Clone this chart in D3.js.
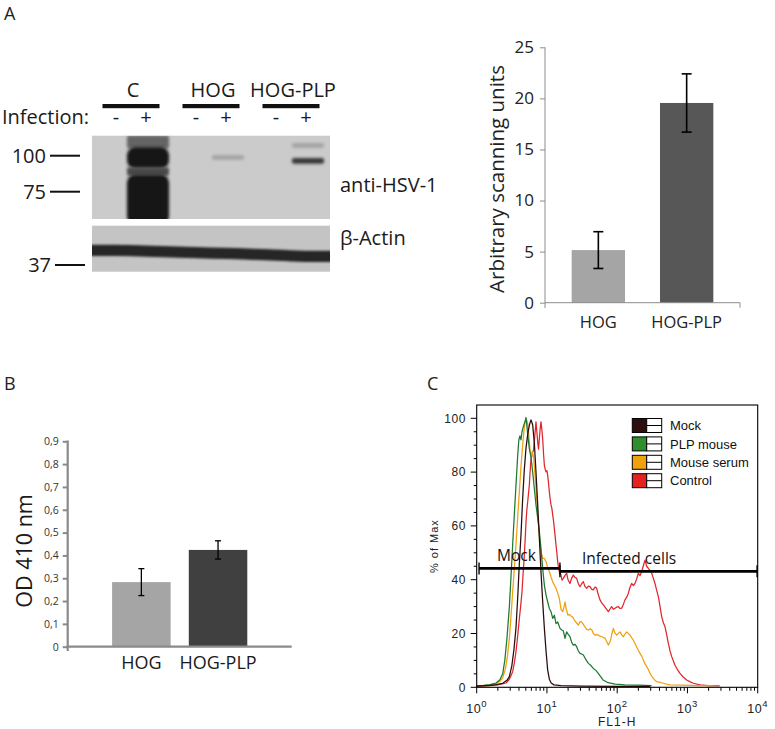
<!DOCTYPE html>
<html><head><meta charset="utf-8">
<script src="https://cdn.jsdelivr.net/npm/d3@7"></script>
<style>
html,body{margin:0;padding:0;background:#fff;}
svg{display:block;}
</style></head><body>
<script>
// ================= DATA =================
// Panel A – western blot
const blotGroups = ["C", "HOG", "HOG-PLP"];
const laneGroup = ["C", "C", "HOG", "HOG", "HOG-PLP", "HOG-PLP"];
const infectionSigns = ["-", "+", "-", "+", "-", "+"];
const markerKDa = [100, 75, 37];
const markerLabels = ["100", "75", "37"];
// HSV-1 bands: lane index, kDa span, signal level (0..1)
const hsvBands = [
  {lane: 1, kdaHi: 114, kdaLo: 105, level: 0.55},
  {lane: 1, kdaHi: 106, kdaLo: 91, level: 0.97},
  {lane: 1, kdaHi: 92, kdaLo: 86, level: 0.7},
  {lane: 1, kdaHi: 87, kdaLo: 58, level: 1.0},
  {lane: 3, kdaHi: 100.5, kdaLo: 97, level: 0.2},
  {lane: 5, kdaHi: 108.8, kdaLo: 105.3, level: 0.2},
  {lane: 5, kdaHi: 98.4, kdaLo: 94.4, level: 0.8}
];
const actinKDa = [44.6, 44.2, 43.4, 43.0, 42.1, 41.5];
const actinSpread = 2.9;
const blotRightLabels = ["anti-HSV-1", "β-Actin"];

// Panel A – quantification
const barCats = ["HOG", "HOG-PLP"];
const scanMean = [5.15, 19.55];
const scanErr = [1.8, 2.85];
const scanTicks = [0, 5, 10, 15, 20, 25];
const scanLabel = "Arbitrary scanning units";

// Panel B – ELISA
const odMean = [0.283, 0.424];
const odErr = [0.059, 0.04];
const odTicks = [0, 0.1, 0.2, 0.3, 0.4, 0.5, 0.6, 0.7, 0.8, 0.9];
const odLabel = "OD 410 nm";

// Panel C – flow cytometry histograms: [log10(FL1-H), % of Max]
const seriesNames = ["Mock", "PLP mouse", "Mouse serum", "Control"];
const mockCurve = [[0,0.4],[0.19,0.7],[0.28,1.0],[0.37,1.5],[0.43,2.6],[0.465,4],[0.5,8],[0.53,14],[0.559,22],[0.583,33],[0.607,46],[0.631,57],[0.654,70],[0.678,81],[0.702,89],[0.726,94],[0.75,97.5],[0.773,99.4],[0.797,97.5],[0.82,91],[0.844,80],[0.868,68],[0.892,55.3],[0.915,43],[0.939,32],[0.963,22],[0.987,13.5],[1.01,6.5],[1.034,3],[1.06,1.6],[1.1,0.9],[1.2,0.6],[1.5,0.4],[2.0,0.3],[2.47,0.3]];
const plpCurve = [[0,0.5],[0.1,0.7],[0.19,1.0],[0.275,1.6],[0.33,2.8],[0.37,5],[0.4,10],[0.43,18],[0.465,30],[0.49,42],[0.512,53],[0.535,64],[0.559,75],[0.583,86],[0.6,92],[0.615,93.5],[0.63,92],[0.645,95],[0.665,97],[0.69,99],[0.702,100.3],[0.715,97],[0.73,93],[0.75,88.5],[0.773,85.5],[0.797,80],[0.82,74],[0.844,67.8],[0.868,63],[0.892,57.8],[0.915,51.6],[0.939,44.2],[0.963,38],[0.987,34.3],[1.01,31.8],[1.034,29.3],[1.058,28.1],[1.082,25.6],[1.105,26.8],[1.129,23.7],[1.153,24.3],[1.186,21.9],[1.21,21.3],[1.233,21],[1.257,18.2],[1.28,20.6],[1.3,19.8],[1.328,18.8],[1.355,16.5],[1.376,15.7],[1.4,16],[1.423,15.1],[1.447,13.5],[1.47,12.6],[1.5,12.3],[1.518,12],[1.55,10.5],[1.59,8.9],[1.63,8],[1.66,7],[1.7,6.2],[1.73,5.2],[1.77,3.8],[1.8,2.7],[1.87,1.7],[1.97,1.2],[2.11,0.9],[2.3,0.8],[2.49,0.6]];
const serumCurve = [[0,0.4],[0.09,0.6],[0.19,0.9],[0.275,1.4],[0.33,2.2],[0.37,3.5],[0.41,7],[0.44,12],[0.465,18.2],[0.49,27],[0.512,35.5],[0.535,44],[0.559,52.9],[0.583,63],[0.607,72.7],[0.63,82],[0.654,90],[0.675,96],[0.69,98.7],[0.71,99.5],[0.726,98],[0.745,92.5],[0.76,88],[0.775,86],[0.79,87.5],[0.81,85.7],[0.827,80],[0.844,73.9],[0.868,65.2],[0.892,56.6],[0.915,50.4],[0.939,47.9],[0.963,47.9],[0.987,46.7],[1.01,44.5],[1.034,43],[1.058,41],[1.082,39.2],[1.105,38],[1.129,36.8],[1.153,35],[1.176,33.1],[1.2,29],[1.224,28.1],[1.245,30],[1.257,31.8],[1.275,29],[1.3,26.8],[1.325,27],[1.35,26.3],[1.37,26],[1.39,25],[1.42,24],[1.447,23.1],[1.47,24.4],[1.49,24.4],[1.515,23.5],[1.54,22.5],[1.565,21.5],[1.59,21.3],[1.615,21.8],[1.64,21.3],[1.66,20],[1.684,19.4],[1.71,19.6],[1.73,19.4],[1.755,19],[1.78,18.8],[1.8,18.6],[1.827,18.2],[1.85,17],[1.874,15.7],[1.89,16.5],[1.906,17.5],[1.925,20],[1.945,21.9],[1.965,20.3],[1.992,19.4],[2.015,20],[2.04,20.6],[2.065,19.5],[2.087,18.8],[2.11,19.8],[2.135,20.6],[2.16,20],[2.182,19.4],[2.205,18.5],[2.23,17.5],[2.255,16.2],[2.277,15],[2.3,13.8],[2.325,12.6],[2.35,11.5],[2.372,10.1],[2.395,8.8],[2.42,7.7],[2.445,6.5],[2.467,5.2],[2.49,4.2],[2.515,3.3],[2.54,2.6],[2.562,2.1],[2.61,1.8],[2.657,1.5],[2.7,1.2],[2.752,0.9],[2.94,0.8],[3.18,0.6],[3.37,0.5]];
const controlCurve = [[0,0.3],[0.19,0.6],[0.3,0.9],[0.417,1.6],[0.465,3],[0.512,5.8],[0.535,9],[0.559,13.2],[0.583,19],[0.607,25.6],[0.625,30],[0.645,35.5],[0.66,42],[0.678,49.1],[0.69,55],[0.702,61.5],[0.714,66],[0.726,69],[0.737,72],[0.749,75.1],[0.76,80],[0.773,85],[0.785,86],[0.797,87.5],[0.808,88],[0.82,91.3],[0.832,95],[0.844,98.7],[0.856,95],[0.868,91.3],[0.88,88.5],[0.892,92.5],[0.903,96],[0.915,98.7],[0.927,96],[0.939,92.5],[0.951,87],[0.963,82.6],[0.975,81],[0.987,80.1],[1.0,80.5],[1.01,78.9],[1.022,76],[1.034,72.7],[1.046,70],[1.058,67.8],[1.07,66.5],[1.082,64],[1.093,62],[1.105,59],[1.117,56],[1.129,52.9],[1.141,50],[1.153,46.7],[1.165,44.5],[1.176,42.9],[1.19,42.2],[1.2,41.7],[1.215,39.8],[1.233,40.5],[1.255,41.5],[1.28,42.4],[1.3,40],[1.328,38.6],[1.35,40.5],[1.376,41.7],[1.4,40.8],[1.423,40.5],[1.447,38.5],[1.47,37.4],[1.495,38.5],[1.518,39.3],[1.54,37.5],[1.565,36.8],[1.59,37.6],[1.613,37.4],[1.635,36.5],[1.66,36.2],[1.685,37.3],[1.708,36.8],[1.73,34.5],[1.755,32.5],[1.78,31.4],[1.803,30.6],[1.84,29.3],[1.874,28.1],[1.9,29.2],[1.921,30],[1.945,29],[1.969,29.4],[1.99,29.8],[2.016,30],[2.04,29.3],[2.064,29.4],[2.09,31],[2.111,32.5],[2.135,33.5],[2.158,34.9],[2.18,37],[2.206,38.6],[2.23,37.8],[2.253,38.6],[2.28,40.5],[2.301,42.4],[2.325,41.5],[2.348,43],[2.37,45],[2.396,47.3],[2.42,45],[2.443,44.2],[2.465,43.5],[2.491,42.4],[2.515,40.5],[2.538,38.6],[2.562,36],[2.586,33.7],[2.61,30],[2.633,26.3],[2.657,24],[2.681,22.5],[2.705,19.5],[2.728,16.3],[2.752,13.5],[2.776,11.4],[2.8,9.8],[2.823,8.2],[2.86,6.5],[2.894,5.2],[2.94,3.8],[2.989,2.7],[3.04,2],[3.084,1.5],[3.18,0.9],[3.3,0.6],[3.46,0.5]];
const gateNames = ["Mock", "Infected cells"];
const gateLo = [1.08, 15.3];
const gateHi = [15.3, 9800];
const gateLevel = [44.2, 43.1];
const flDecades = [1, 10, 100, 1000, 10000];
const flPctTicks = [0, 20, 40, 60, 80, 100];

// ================= DRAW =================
const W = 775, H = 729;
const OS = '"Open Sans", sans-serif';
const AR = '"Liberation Sans", Arial, sans-serif';
const svg = d3.select("body").append("svg").attr("width", W).attr("height", H);
svg.append("rect").attr("width", W).attr("height", H).attr("fill", "#fff");
const defs = svg.append("defs");
defs.append("filter").attr("id", "blurB").attr("x", "-30%").attr("y", "-60%").attr("width", "160%").attr("height", "220%")
  .append("feGaussianBlur").attr("stdDeviation", 1.6);
defs.append("filter").attr("id", "blurA").attr("x", "-5%").attr("y", "-60%").attr("width", "110%").attr("height", "220%")
  .append("feGaussianBlur").attr("stdDeviation", 1.1);

// panel letters
[["A", 4, 19.5], ["B", 4, 390], ["C", 427, 390]].forEach(([t, x, y]) =>
  svg.append("text").attr("x", x).attr("y", y).text(t)
    .attr("font-family", OS).attr("font-size", 18).attr("fill", "#222"));

// ---------- Panel A: blot ----------
const blot = svg.append("g");
const grpX = d3.scalePoint().domain(blotGroups).range([131, 291]);
const laneX = i => grpX(laneGroup[i]) + (infectionSigns[i] === "+" ? 15 : -15);
const kdaY = d3.scaleLinear().domain(markerKDa).range([155.7, 191.7, 265]);
const topPanel = {x: 92, y: 135.7, w: 238, h: 83.3};
const botPanel = {x: 92, y: 225.7, w: 238, h: 46};
defs.append("clipPath").attr("id", "clipTop").append("rect")
  .attr("x", topPanel.x).attr("y", topPanel.y).attr("width", topPanel.w).attr("height", topPanel.h);
defs.append("clipPath").attr("id", "clipBot").append("rect")
  .attr("x", botPanel.x).attr("y", botPanel.y).attr("width", botPanel.w).attr("height", botPanel.h);

blot.append("rect").attr("x", topPanel.x).attr("y", topPanel.y).attr("width", topPanel.w).attr("height", topPanel.h).attr("fill", "#cbcbcb");
blot.append("rect").attr("x", botPanel.x).attr("y", botPanel.y).attr("width", botPanel.w).attr("height", botPanel.h).attr("fill", "#c4c4c4");

const bandCol = d3.interpolateRgb("#c9c9c9", "#141414");
const gTop = blot.append("g").attr("clip-path", "url(#clipTop)");
gTop.selectAll("rect.band").data(hsvBands).join("rect").attr("class", "band")
  .attr("x", d => laneX(d.lane) + 2 - (d.lane === 1 ? 21 : 16))
  .attr("width", d => d.lane === 1 ? 42 : 32)
  .attr("y", d => kdaY(d.kdaHi))
  .attr("height", d => kdaY(d.kdaLo) - kdaY(d.kdaHi))
  .attr("rx", d => d.level > 0.9 ? 8 : 2)
  .attr("fill", d => bandCol(d.level))
  .attr("filter", "url(#blurB)");

// actin band
const actinPts = actinKDa.map((k, i) => [laneX(i), k]);
const actinFull = [[topPanel.x - 4, actinKDa[0]], ...actinPts, [topPanel.x + topPanel.w + 4, actinKDa[actinKDa.length - 1]]];
const actinArea = d3.area().x(d => d[0]).y0(d => kdaY(d[1] + actinSpread)).y1(d => kdaY(d[1] - actinSpread)).curve(d3.curveMonotoneX);
blot.append("g").attr("clip-path", "url(#clipBot)").append("path")
  .attr("d", actinArea(actinFull)).attr("fill", "#262626").attr("filter", "url(#blurA)");

// group labels & bars
blotGroups.forEach(g => {
  blot.append("text").attr("x", grpX(g) + 2).attr("y", 96.5).attr("text-anchor", "middle").text(g)
    .attr("font-family", OS).attr("font-size", 20).attr("fill", "#1a1a1a");
  blot.append("rect").attr("x", grpX(g) - 28.5).attr("y", 104).attr("width", 57).attr("height", 4.2).attr("fill", "#111");
});
blot.append("text").attr("x", 89).attr("y", 124).attr("text-anchor", "end").text("Infection:")
  .attr("font-family", OS).attr("font-size", 20).attr("fill", "#1a1a1a");
infectionSigns.forEach((s, i) => blot.append("text").attr("x", laneX(i)).attr("y", 124).attr("text-anchor", "middle").text(s)
  .attr("font-family", OS).attr("font-size", 20).attr("fill", "#1a1a1a"));
// markers
markerKDa.forEach((k, i) => {
  const last = i === markerKDa.length - 1;
  const x0 = last ? 55 : 50;
  blot.append("line").attr("x1", x0).attr("x2", x0 + 30).attr("y1", kdaY(k)).attr("y2", kdaY(k)).attr("stroke", "#111").attr("stroke-width", 2);
  blot.append("text").attr("x", x0 - 4).attr("y", kdaY(k)).attr("dy", "0.36em").attr("text-anchor", "end").text(markerLabels[i])
    .attr("font-family", OS).attr("font-size", 20).attr("fill", "#1a1a1a");
});
blot.append("text").attr("x", 340).attr("y", 192).text(blotRightLabels[0]).attr("font-family", OS).attr("font-size", 20).attr("fill", "#1a1a1a");
blot.append("text").attr("x", 340).attr("y", 245).text(blotRightLabels[1]).attr("font-family", OS).attr("font-size", 20).attr("fill", "#1a1a1a");

// ---------- Panel A: bar chart ----------
{
  const g = svg.append("g");
  const x = d3.scaleBand().domain(barCats).range([545, 740]).paddingInner(0.396).paddingOuter(0.302);
  const y = d3.scaleLinear().domain([0, 25]).range([302.7, 47.3]);
  const fills = ["#a5a5a5", "#575757"];
  g.selectAll("rect.bar").data(barCats).join("rect")
    .attr("x", d => x(d)).attr("width", x.bandwidth())
    .attr("y", (d, i) => y(scanMean[i])).attr("height", (d, i) => y(0) - y(scanMean[i]))
    .attr("fill", (d, i) => fills[i]);
  const ax = g.append("g").attr("transform", "translate(545,0)")
    .call(d3.axisLeft(y).tickValues(scanTicks).tickSize(5).tickSizeOuter(0).tickPadding(6));
  ax.select(".domain").remove();
  ax.selectAll("line").attr("stroke", "#8c8c8c");
  ax.selectAll("text").attr("font-family", OS).attr("font-size", 17).attr("fill", "#222");
  g.append("line").attr("x1", 545).attr("x2", 545).attr("y1", 47.3).attr("y2", 308).attr("stroke", "#8c8c8c");
  g.append("line").attr("x1", 545).attr("x2", 740).attr("y1", y(0)).attr("y2", y(0)).attr("stroke", "#8c8c8c");
  g.append("line").attr("x1", 740).attr("x2", 740).attr("y1", y(0)).attr("y2", y(0) + 5).attr("stroke", "#8c8c8c");
  barCats.forEach((c, i) => {
    const cx = x(c) + x.bandwidth() / 2;
    const e = g.append("g").attr("stroke", "#000").attr("stroke-width", 1.6);
    e.append("line").attr("x1", cx).attr("x2", cx).attr("y1", y(scanMean[i] + scanErr[i])).attr("y2", y(scanMean[i] - scanErr[i]));
    [scanMean[i] + scanErr[i], scanMean[i] - scanErr[i]].forEach(v =>
      e.append("line").attr("x1", cx - 5).attr("x2", cx + 5).attr("y1", y(v)).attr("y2", y(v)));
    g.append("text").attr("x", cx).attr("y", 328).attr("text-anchor", "middle").text(c)
      .attr("font-family", OS).attr("font-size", 16.5).attr("fill", "#222");
  });
  g.append("text").attr("transform", "translate(497,179) rotate(-90)").attr("text-anchor", "middle").attr("dy", "0.35em")
    .text(scanLabel).attr("font-family", OS).attr("font-size", 20.5).attr("fill", "#222");
}

// ---------- Panel B ----------
{
  const g = svg.append("g");
  const x = d3.scaleBand().domain(barCats).range([67.7, 291.7]).paddingInner(0.237).paddingOuter(0.579);
  const y = d3.scaleLinear().domain([0, 0.9]).range([646.7, 441.3]);
  const fills = ["#a5a5a5", "#404040"];
  g.selectAll("rect.bar").data(barCats).join("rect")
    .attr("x", d => x(d)).attr("width", x.bandwidth())
    .attr("y", (d, i) => y(odMean[i])).attr("height", (d, i) => y(0) - y(odMean[i]))
    .attr("fill", (d, i) => fills[i]);
  const fmt = v => v === 0 ? "0" : d3.format(".1f")(v).replace(".", ",");
  const ax = g.append("g").attr("transform", "translate(67.7,0)")
    .call(d3.axisLeft(y).tickValues(odTicks).tickFormat(fmt).tickSize(5).tickSizeOuter(0).tickPadding(4));
  ax.select(".domain").remove();
  ax.selectAll("line").attr("stroke", "#8a8a8a").attr("stroke-width", 2);
  ax.selectAll("text").attr("font-family", OS).attr("font-size", 10.5).attr("fill", "#333");
  g.append("line").attr("x1", 67.7).attr("x2", 67.7).attr("y1", 440.5).attr("y2", 651).attr("stroke", "#8a8a8a").attr("stroke-width", 2.2);
  g.append("line").attr("x1", 66.6).attr("x2", 291.7).attr("y1", y(0)).attr("y2", y(0)).attr("stroke", "#8a8a8a").attr("stroke-width", 2.2);
  barCats.forEach((c, i) => {
    const cx = x(c) + x.bandwidth() / 2;
    const e = g.append("g").attr("stroke", "#000").attr("stroke-width", 1.3);
    e.append("line").attr("x1", cx).attr("x2", cx).attr("y1", y(odMean[i] + odErr[i])).attr("y2", y(odMean[i] - odErr[i]));
    [odMean[i] + odErr[i], odMean[i] - odErr[i]].forEach(v =>
      e.append("line").attr("x1", cx - 3).attr("x2", cx + 3).attr("y1", y(v)).attr("y2", y(v)));
    g.append("text").attr("x", cx).attr("y", 669).attr("text-anchor", "middle").text(c)
      .attr("font-family", OS).attr("font-size", 18).attr("fill", "#1a1a1a");
  });
  g.append("text").attr("transform", "translate(24,551) rotate(-90)").attr("text-anchor", "middle").attr("dy", "0.35em")
    .text(odLabel).attr("font-family", OS).attr("font-size", 21.5).attr("fill", "#1a1a1a");
}

// ---------- Panel C ----------
{
  const g = svg.append("g");
  const L = 476.7, R = 757.7, T = 405;
  const x = d3.scaleLog().domain([1, 1e4]).range([L, R]);
  const y = d3.scaleLinear().domain([0, 100]).range([687.3, 418.3]);
  const B = y(0);
  const colors = ["#2a0b0b", "#1d7a30", "#f0a00f", "#e0262a"];
  const legendColors = ["#2e0f0f", "#2f8f2f", "#f2a00c", "#e52222"];
  const curves = [mockCurve, plpCurve, serumCurve, controlCurve];
  const line = d3.line().x(d => x(Math.pow(10, d[0]))).y(d => y(d[1]));
  [3, 2, 1, 0].forEach(i => g.append("path").attr("d", line(curves[i])).attr("fill", "none")
    .attr("stroke", colors[i]).attr("stroke-width", 1.25).attr("stroke-linejoin", "round"));
  // frame
  g.append("rect").attr("x", L).attr("y", T).attr("width", R - L).attr("height", B - T)
    .attr("fill", "none").attr("stroke", "#000").attr("stroke-width", 1.1);
  // y ticks
  d3.range(0, 101, 5).forEach(v => {
    const major = v % 20 === 0;
    g.append("line").attr("x1", L - (major ? 6 : 3)).attr("x2", L).attr("y1", y(v)).attr("y2", y(v)).attr("stroke", "#000");
  });
  flPctTicks.forEach(v => g.append("text").attr("x", 466).attr("y", y(v)).attr("dy", "0.36em").attr("text-anchor", "end")
    .text(v).attr("font-family", AR).attr("font-size", 12).attr("letter-spacing", 0.6).attr("fill", "#222"));
  // x ticks
  x.ticks().forEach(v => {
    const major = flDecades.includes(v);
    g.append("line").attr("x1", x(v)).attr("x2", x(v)).attr("y1", B).attr("y2", B + (major ? 6 : 3.5)).attr("stroke", "#000");
  });
  flDecades.forEach((v, i) => {
    const t = g.append("text").attr("x", x(v)).attr("y", 713).attr("text-anchor", "middle")
      .attr("font-family", AR).attr("font-size", 12.5).attr("letter-spacing", 0.5).attr("fill", "#222");
    t.append("tspan").text("10");
    t.append("tspan").attr("dy", -6).attr("font-size", 9.5).text(String(i));
  });
  g.append("text").attr("x", (L + R) / 2).attr("y", 725.5).attr("text-anchor", "middle").text("FL1-H")
    .attr("font-family", AR).attr("font-size", 12).attr("letter-spacing", 1).attr("fill", "#222");
  g.append("text").attr("transform", `translate(434,${(T + B) / 2}) rotate(-90)`).attr("text-anchor", "middle").attr("dy", "0.35em")
    .text("% of Max").attr("font-family", AR).attr("font-size", 11).attr("letter-spacing", 1).attr("fill", "#222");
  // gates
  gateNames.forEach((n, i) => {
    const x0 = x(gateLo[i]), x1 = x(gateHi[i]), gy = y(gateLevel[i]);
    g.append("line").attr("x1", x0).attr("x2", x1).attr("y1", gy).attr("y2", gy).attr("stroke", "#000").attr("stroke-width", 2.6);
    g.append("line").attr("x1", x0).attr("x2", x0).attr("y1", gy - 6).attr("y2", gy + 6).attr("stroke", "#000").attr("stroke-width", 1.4);
    g.append("line").attr("x1", x1).attr("x2", x1).attr("y1", gy - 6).attr("y2", gy + 6).attr("stroke", "#000").attr("stroke-width", 1.4);
    g.append("text").attr("x", x0 + (i === 0 ? 18 : 22)).attr("y", gy - 7).text(n)
      .attr("font-family", OS).attr("font-size", 15.5).attr("fill", "#111");
  });
  // legend
  seriesNames.forEach((n, i) => {
    const cy = 425.5 + i * 18.4;
    g.append("rect").attr("x", 632.3).attr("y", cy - 7).attr("width", 14.4).attr("height", 14)
      .attr("fill", legendColors[i]).attr("stroke", "#000").attr("stroke-width", 1);
    g.append("rect").attr("x", 646.7).attr("y", cy - 7).attr("width", 15).attr("height", 14)
      .attr("fill", "#fff").attr("stroke", "#000").attr("stroke-width", 1);
    g.append("line").attr("x1", 646.7).attr("x2", 661.7).attr("y1", cy).attr("y2", cy).attr("stroke", "#000");
    g.append("text").attr("x", 670).attr("y", cy).attr("dy", "0.36em").text(n)
      .attr("font-family", AR).attr("font-size", 13).attr("fill", "#111");
  });
}
</script>
</body></html>
